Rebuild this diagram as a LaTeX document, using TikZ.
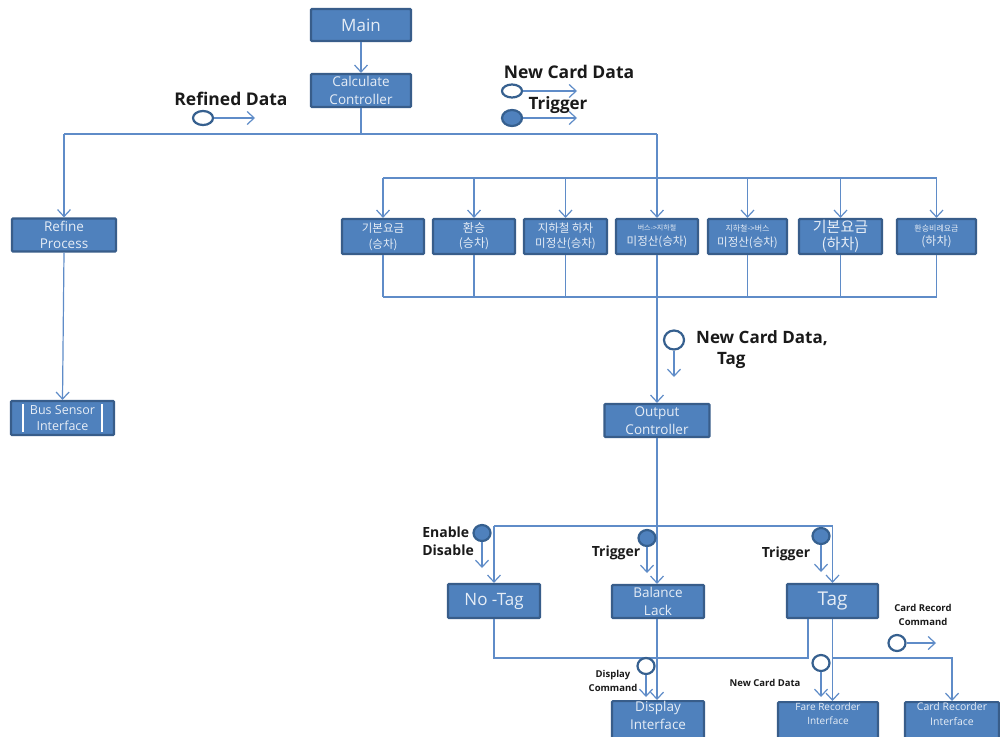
\documentclass[tikz,border=0pt]{standalone}
\usepackage{fontspec}
\setmainfont{Open Sans}
\newfontfamily\kr{Noto Sans CJK KR}
\usetikzlibrary{arrows.meta,shapes.geometric}
\definecolor{boxfill}{HTML}{4F81BD}
\definecolor{boxborder}{HTML}{385D8A}
\definecolor{linecol}{HTML}{5F8CC8}
\definecolor{circborder}{HTML}{36608F}
\definecolor{boxtext}{HTML}{E6EDF6}
\definecolor{labtext}{HTML}{1A1A1A}
\tikzset{
  box/.style={draw=boxborder, line width=2.2pt, fill=boxfill, text=boxtext, align=center, inner sep=0pt, rounded corners=1pt},
  conn/.style={draw=linecol, line width=1.2pt},
  arr/.style={conn, -{Straight Barb[length=7pt,width=13pt,line width=1.2pt]}},
  sigo/.style={ellipse, draw=circborder, line width=2.2pt, fill=white, inner sep=0pt},
  sigf/.style={ellipse, draw=circborder, line width=2.2pt, fill=boxfill, inner sep=0pt},
  lab/.style={text=labtext, font=\bfseries, align=center, inner sep=0pt},
}
\begin{document}
\begin{tikzpicture}[x=1pt,y=-1pt]
\useasboundingbox (0,0) rectangle (1000,736);
\clip (0,0) rectangle (1000,736);
\fill[white] (0,0) rectangle (1000,736);

% top boxes
\node[box, minimum width=100, minimum height=32, font=\fontsize{17}{20}\selectfont] (main) at (361,25) {Main};
\node[box, minimum width=100, minimum height=33, font=\fontsize{13.5}{17.5}\selectfont] (calc) at (361,90.5) {Calculate\\Controller};
\node[box, minimum width=104, minimum height=33, font=\fontsize{13.5}{17.5}\selectfont] (refine) at (64,235) {Refine\\Process};
\node[box, minimum width=103, minimum height=34, font=\fontsize{12.5}{16.5}\selectfont] (bus) at (62.5,418) {Bus Sensor\\Interface};
\draw[white, line width=2.5pt] (23,404) -- (23,432) (102,404) -- (102,432);

% Korean row
\node[box, minimum width=82, minimum height=35, font=\kr\fontsize{11.5}{16}\selectfont] (k1) at (383,236.5) {기본요금\\(승차)};
\node[box, minimum width=82, minimum height=35, font=\kr\fontsize{12}{15}\selectfont] (k2) at (474,236.5) {환승\\(승차)};
\node[box, minimum width=83, minimum height=35, font=\kr\fontsize{11.5}{15}\selectfont] (k3) at (565.5,236.5) {지하철 하차\\미정산(승차)};
\node[box, minimum width=82, minimum height=35, font=\kr\fontsize{11.5}{15}\selectfont] (k4) at (657,236.5) {{\fontsize{7}{9}\selectfont 버스->지하철}\\미정산(승차)};
\node[box, minimum width=79, minimum height=35, font=\kr\fontsize{11.5}{15}\selectfont] (k5) at (747.5,236.5) {{\fontsize{8}{10}\selectfont 지하철->버스}\\미정산(승차)};
\node[box, minimum width=83, minimum height=35, font=\kr\fontsize{15}{17}\selectfont] (k6) at (840.5,236.5) {기본요금\\(하차)};
\node[box, minimum width=79, minimum height=35, font=\kr\fontsize{12}{14}\selectfont] (k7) at (936.5,236.5) {{\fontsize{8}{10}\selectfont 환승비례요금}\\(하차)};

\node[box, minimum width=105, minimum height=33, font=\fontsize{13.5}{17.5}\selectfont] (out) at (657,420.5) {Output\\Controller};

\node[box, minimum width=92, minimum height=34, font=\fontsize{17}{20}\selectfont] (notag) at (494,601) {No -Tag};
\node[box, minimum width=92, minimum height=33, font=\fontsize{13.5}{17.5}\selectfont] (bal) at (658,601.5) {Balance\\Lack};
\node[box, minimum width=91, minimum height=34, font=\fontsize{19}{22}\selectfont] (tag) at (832.5,601) {Tag};

\node[box, minimum width=92, minimum height=44, font=\fontsize{13.5}{18}\selectfont, anchor=north] (disp) at (658,700) {Display\\Interface\\[4pt]};
\node[box, minimum width=100, minimum height=44, font=\fontsize{10}{14}\selectfont, anchor=north] (fare) at (828,701) {Fare Recorder\\Interface\\[6pt]};
\node[box, minimum width=94, minimum height=44, font=\fontsize{10.5}{15}\selectfont, anchor=north] (card) at (952,701) {Card Recorder\\Interface\\[6pt]};

% connectors
\coordinate (tb) at (0,134);
\coordinate (rt) at (0,178);
\coordinate (rb) at (0,297);
\coordinate (ob) at (0,526);
\coordinate (nb) at (0,658);

\draw[arr] (main.south) -- (calc.north);
\draw[conn] (calc.south) -- (calc.south |- tb);
\draw[conn] (refine.north |- tb) -- (k4.north |- tb);
\draw[arr] (refine.north |- tb) -- (refine.north);
\draw[arr] (refine.south) -- (bus.north);
\draw[arr] (k4.north |- tb) -- (k4.north);
\draw[conn] (k1.north |- rt) -- (k7.north |- rt);
\foreach \k in {k1,k2,k3,k5,k6,k7} {\draw[arr] (\k.north |- rt) -- (\k.north);}
\draw[conn] (k1.south |- rb) -- (k7.south |- rb);
\foreach \k in {k1,k2,k3,k5,k6,k7} {\draw[conn] (\k.south) -- (\k.south |- rb);}
\draw[arr] (k4.south) -- (out.north);

\draw[arr] (out.south) -- (out.south |- bal.north);
\draw[conn] (notag.north |- ob) -- (tag.north |- ob);
\draw[arr] (notag.north |- ob) -- (notag.north);
\draw[arr] (tag.north |- ob) -- (tag.north);
\draw[arr] (out.south |- bal.south) -- (out.south |- disp.north);
\draw[conn] (notag.south) |- ([xshift=-24.5pt]tag.south |- nb) -- ([xshift=-24.5pt]tag.south);
\draw[arr] (tag.south) -- (tag.south |- fare.north);
\draw[arr] (tag.south |- nb) -| (card.north);

% signals
\node[sigo, minimum width=20, minimum height=14] (s1) at (203,118) {};
\coordinate (s1e) at (255,118);
\draw[arr] (s1.east) -- (s1e);
\node[lab, font=\bfseries\fontsize{17.5}{18}\selectfont] (l1) at (231,99) {Refined Data};

\node[sigo, minimum width=20, minimum height=13] (s2) at (512,91) {};
\coordinate (s2e) at (577,91);
\draw[arr] (s2.east) -- (s2e);
\node[lab, font=\bfseries\fontsize{17.5}{18}\selectfont] (l2) at (569,72) {New Card Data};

\node[sigf, minimum width=20, minimum height=16] (s3) at (512,118) {};
\coordinate (s3e) at (577,118);
\draw[arr] (s3.east) -- (s3e);
\node[lab, font=\bfseries\fontsize{17}{18}\selectfont] (l3) at (558,105) {Trigger};

\node[sigo, minimum width=20, minimum height=19] (s4) at (674,340) {};
\coordinate (s4e) at (674,377);
\draw[arr] (s4.south) -- (s4e);
\node[lab, font=\bfseries\fontsize{17}{18}\selectfont, anchor=west] (l4) at (696,338) {New Card Data,};
\node[lab, font=\bfseries\fontsize{17}{18}\selectfont, anchor=west] (l4b) at (717,360) {Tag};

\node[sigf, minimum width=17, minimum height=16] (s5) at (482,533) {};
\coordinate (s5e) at (482,568);
\draw[arr] (s5.south) -- (s5e);
\node[lab, font=\bfseries\fontsize{14}{18}\selectfont, anchor=north east, align=left] (l5) at (474,527) {Enable\\Disable};

\node[sigf, minimum width=17, minimum height=16] (s6) at (647,538) {};
\coordinate (s6e) at (647,573);
\draw[arr] (s6.south) -- (s6e);
\node[lab, font=\bfseries\fontsize{14}{16}\selectfont] (l6) at (616,553) {Trigger};

\node[sigf, minimum width=17, minimum height=16] (s7) at (821,536) {};
\coordinate (s7e) at (821,572);
\draw[arr] (s7.south) -- (s7e);
\node[lab, font=\bfseries\fontsize{14}{16}\selectfont] (l7) at (786,554) {Trigger};

\node[sigo, minimum width=17, minimum height=16] (s8) at (646,666) {};
\coordinate (s8e) at (646,697);
\draw[arr] (s8.south) -- (s8e);
\node[lab, font=\bfseries\fontsize{9.5}{14}\selectfont] (l8) at (613,681) {Display\\Command};

\node[sigo, minimum width=17, minimum height=16] (s9) at (821,663) {};
\coordinate (s9e) at (821,697);
\draw[arr] (s9.south) -- (s9e);
\node[lab, font=\bfseries\fontsize{9.5}{12}\selectfont] (l9) at (765,683) {New Card Data};

\node[sigo, minimum width=17, minimum height=16] (s10) at (897,643) {};
\coordinate (s10e) at (936,643);
\draw[arr] (s10.east) -- (s10e);
\node[lab, font=\bfseries\fontsize{9.5}{14}\selectfont] (l10) at (923,615) {Card Record\\Command};
\end{tikzpicture}
\end{document}
